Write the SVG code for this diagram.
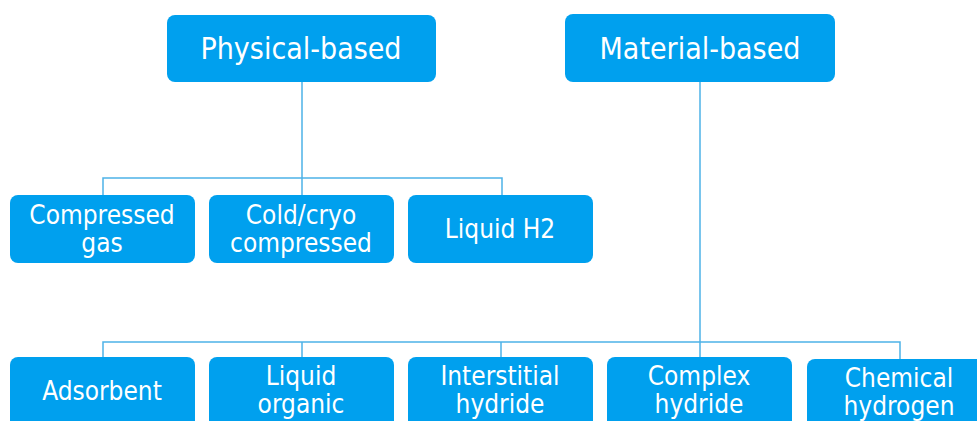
<svg xmlns="http://www.w3.org/2000/svg" width="977" height="421" viewBox="0 0 977 421">
<style>
.box{fill:#00A0EE;}
.t{font-family:"DejaVu Sans Condensed","DejaVu Sans",Verdana,sans-serif;font-stretch:condensed;fill:#fff;text-anchor:middle;}
.big{font-size:30px;}
.sm{font-size:26px;}
.ln{stroke:#4DB2E8;stroke-width:1.5;fill:none;}
</style>
<rect width="977" height="421" fill="#fff"/>
<g id="connectors">
<path class="ln" d="M302 82V178M103 195V178H502V195M302 178V195"/>
<path class="ln" d="M700 82V342M103 357V342H900V359M302 342V357M501 342V357M700 342V357"/>
</g>
<g id="physical"><rect class="box" x="167" y="15" width="269" height="67" rx="8"/><text class="t big" x="301" y="59">Physical-based</text></g>
<g id="material"><rect class="box" x="565" y="14" width="270" height="68" rx="8"/><text class="t big" x="700" y="59">Material-based</text></g>
<g id="compressed"><rect class="box" x="10" y="195" width="185" height="68" rx="8"/><text class="t sm" x="102" y="224">Compressed</text><text class="t sm" x="102" y="252">gas</text></g>
<g id="cold"><rect class="box" x="209" y="195" width="185" height="68" rx="8"/><text class="t sm" x="301" y="224">Cold/cryo</text><text class="t sm" x="301" y="252">compressed</text></g>
<g id="liquidh2"><rect class="box" x="408" y="195" width="185" height="68" rx="8"/><text class="t sm" x="500" y="238">Liquid H2</text></g>
<g id="adsorbent"><rect class="box" x="10" y="357" width="185" height="80" rx="8"/><text class="t sm" x="102" y="400">Adsorbent</text></g>
<g id="liquidorganic"><rect class="box" x="209" y="357" width="185" height="80" rx="8"/><text class="t sm" x="301" y="385">Liquid</text><text class="t sm" x="301" y="413">organic</text></g>
<g id="interstitial"><rect class="box" x="408" y="357" width="185" height="80" rx="8"/><text class="t sm" x="500" y="385">Interstitial</text><text class="t sm" x="500" y="413">hydride</text></g>
<g id="complex"><rect class="box" x="607" y="357" width="185" height="80" rx="8"/><text class="t sm" x="699" y="385">Complex</text><text class="t sm" x="699" y="413">hydride</text></g>
<g id="chemical"><rect class="box" x="807" y="359" width="185" height="80" rx="8"/><text class="t sm" x="899" y="387">Chemical</text><text class="t sm" x="899" y="415">hydrogen</text></g>
</svg>
